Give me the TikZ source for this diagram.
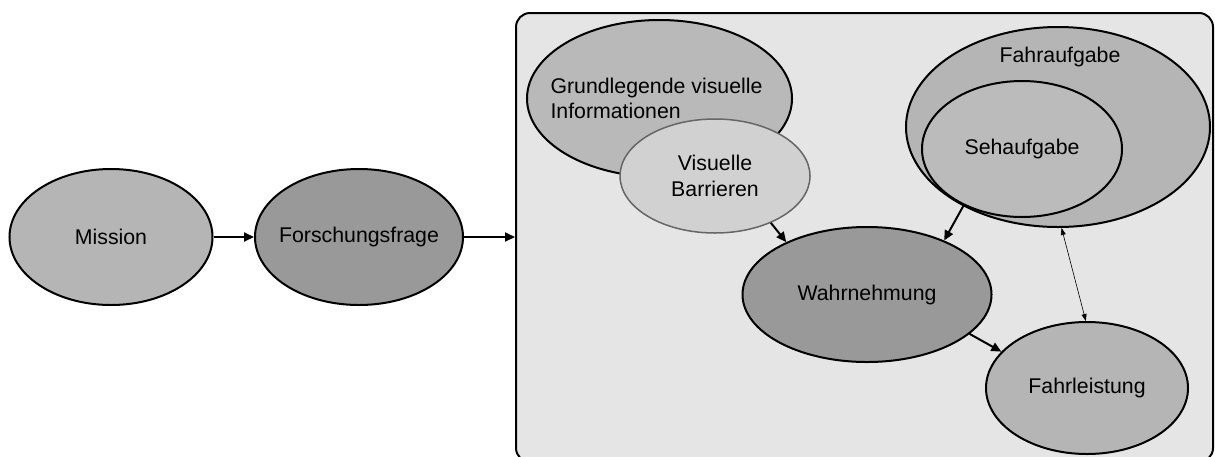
\documentclass[tikz,border=0pt]{standalone}
\usepackage{fontspec}
\setmainfont{Liberation Sans}
\usetikzlibrary{shapes.geometric,arrows.meta}

\definecolor{rahmengrau}{gray}{0.9}
\definecolor{hellgrau}{gray}{0.71}
\definecolor{mittelgrau}{gray}{0.6}
\definecolor{blassgrau}{gray}{0.82}
\definecolor{randgrau}{gray}{0.4}
\newcommand{\schrift}{\fontsize{21.3}{25.5}\selectfont}

\begin{document}
\begin{tikzpicture}[x=1pt,y=-1pt,
		blase/.style={ellipse,draw,line width=2pt,inner sep=0pt,font=\schrift},
		pfeil/.style={-{Triangle[length=10pt,width=9pt]},line width=2pt}]
		\useasboundingbox (0,0) rectangle (1215,456);

		\node[blase,fill=hellgrau,minimum width=203pt,minimum height=136pt] (mission) at (111,237) {Mission};
		\node[blase,fill=mittelgrau,minimum width=208pt,minimum height=136pt,
			label={[font=\schrift]center:Forschungsfrage}] (frage) at (359,237) {};
		\node[draw,line width=2pt,rounded corners=14pt,fill=rahmengrau,inner sep=0pt,
			minimum width=697pt,minimum height=449pt] (rahmen) at (864.5,237.5) {};

		% linke Seite im Rahmen
		\node[blase,fill=hellgrau!95!white,minimum width=265pt,minimum height=157pt,
			label={[font=\schrift,align=left,xshift=-3pt]center:Grundlegende visuelle\\Informationen}] (grund) at (659.5,98.5) {};
		\node[blase,fill=blassgrau,draw=randgrau,line width=1.5pt,align=center,
			minimum width=190pt,minimum height=114pt] (barr) at (715,176) {Visuelle\\Barrieren};

		% rechte Seite im Rahmen
		\node[blase,fill=hellgrau,minimum width=304pt,minimum height=200pt] (fahr) at (1058,127) {};
		\node[font=\schrift] (fahrtitel) at (1060,57) {Fahraufgabe};
		\node[blase,fill=hellgrau!92!white,minimum width=200pt,minimum height=136pt] (seh) at (1022,149) {Sehaufgabe};

		\node[blase,fill=mittelgrau,minimum width=249pt,minimum height=135pt] (wahr) at (867,294.5) {Wahrnehmung};
		\node[blase,fill=hellgrau,minimum width=202pt,minimum height=132pt] (leist) at (1087,388) {Fahrleistung};

		\draw[pfeil] (mission) -- (frage);
		\draw[pfeil] (frage) -- (frage -| rahmen.west);
		\draw[pfeil] (barr.-40) -- (wahr.147);
		\draw[pfeil] (seh.-136) -- (wahr.35);
		\draw[pfeil] (wahr.-21) -- (leist.157);
		\draw[{Triangle[length=7pt,width=5pt]}-{Triangle[length=7pt,width=5pt]},line width=0.6pt] (fahr.-88) -- (leist.91);
	\end{tikzpicture}
\end{document}
